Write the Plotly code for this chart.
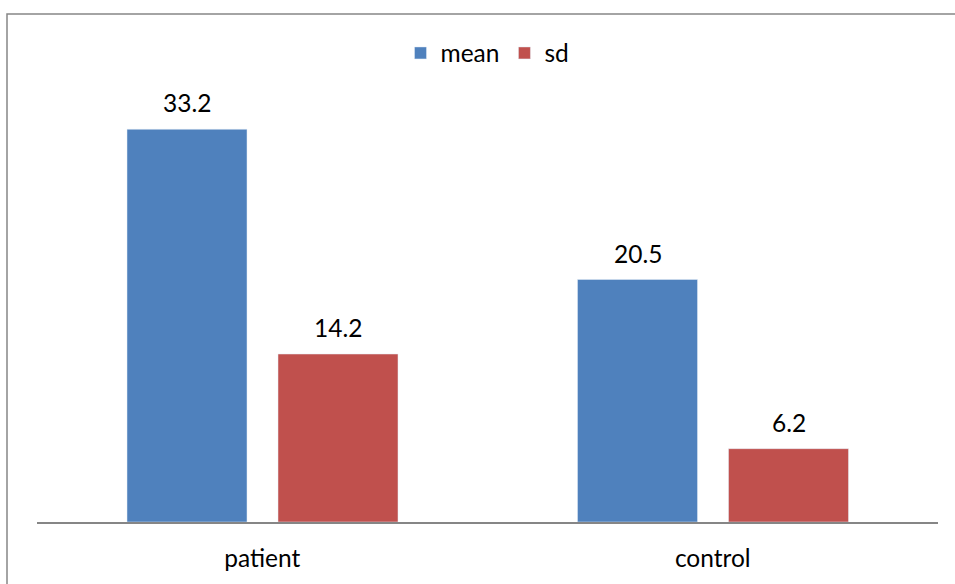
import plotly.graph_objects as go

categories = ["patient", "control"]
mean_values = [33.2, 20.5]
sd_values = [14.2, 6.2]

FONT = "Lato"
FS = 24.5
W, H = 955, 584
L, R, T, B = 37, 17, 108, 62
plot_w = W - L - R
cat_px = plot_w / len(categories)
bar_w = 120 / cat_px
off_mean = (127 - (L + cat_px / 2)) / cat_px
off_sd = (278 - (L + cat_px / 2)) / cat_px

fig = go.Figure()
fig.add_trace(go.Bar(name="mean", x=categories, y=mean_values, marker_color="#4F81BD",
                     width=bar_w, offset=off_mean))
fig.add_trace(go.Bar(name="sd", x=categories, y=sd_values, marker_color="#C0504D",
                     width=bar_w, offset=off_sd))

for vals, off in [(mean_values, off_mean), (sd_values, off_sd)]:
    for c, v in zip(categories, vals):
        fig.add_annotation(x=c, y=v, text=f"{v:.1f}", showarrow=False,
                           xshift=(off + bar_w / 2) * cat_px, yshift=10, yanchor="bottom",
                           font=dict(family=FONT, size=FS, color="black"))

plot_h = H - T - B
fig.add_shape(type="rect", xref="paper", yref="paper",
              x0=(7 - L) / plot_w, x1=(962 - L) / plot_w,
              y0=(H - T - 600) / plot_h, y1=(H - B - 14) / plot_h,
              line=dict(color="#868686", width=1.5), fillcolor="rgba(0,0,0,0)", layer="below")

fig.update_layout(
    width=W, height=H, margin=dict(l=L, r=R, t=T, b=B),
    plot_bgcolor="white", paper_bgcolor="white",
    barmode="group",
    font=dict(family=FONT, size=FS, color="black"),
    showlegend=True,
    legend=dict(orientation="h", x=0.5, xanchor="center", y=(H - B - 53) / plot_h, yanchor="middle",
                font=dict(family=FONT, size=FS), itemwidth=30, traceorder="normal"),
    xaxis=dict(showline=True, linecolor="#868686", linewidth=1.5, ticks="", showgrid=False,
               range=[-0.5, 1.5], tickfont=dict(size=FS), ticklabelstandoff=14),
    yaxis=dict(range=[0, 35], visible=False, showgrid=False),
)
fig.write_html("out.html", config={"displayModeBar": False},
               post_script="document.body.style.margin='0';")
